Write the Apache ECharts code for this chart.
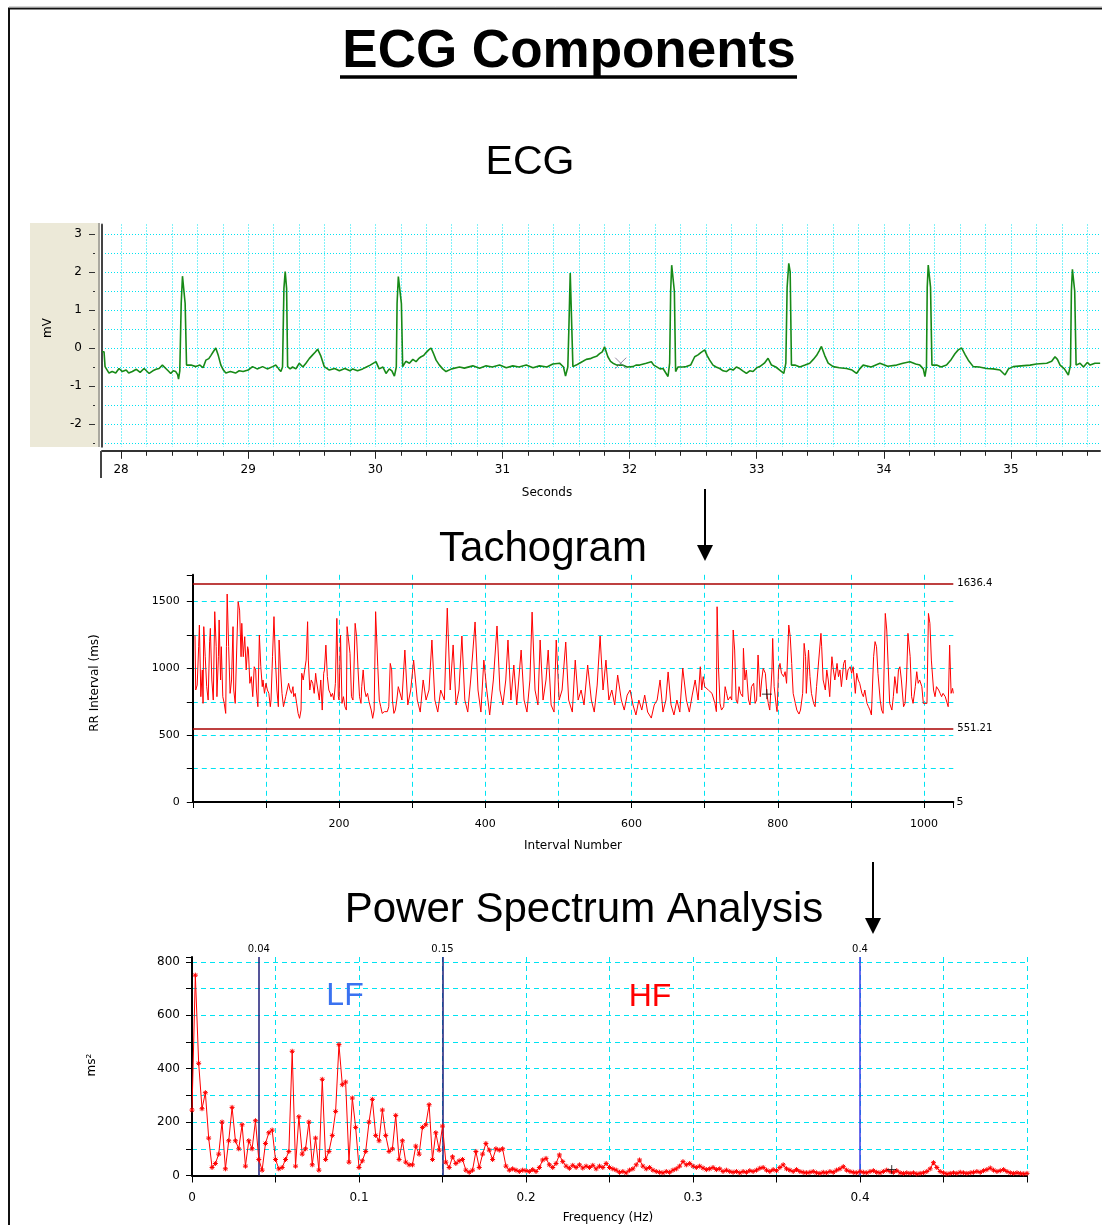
<!DOCTYPE html>
<html><head><meta charset="utf-8">
<script src="https://cdn.jsdelivr.net/npm/echarts@6/dist/echarts.min.js"></script>
<style>html,body{margin:0;padding:0;background:#fff}#c{width:1102px;height:1225px}</style>
</head><body><div id="c"></div>
<script>
// ---------------- DATA ----------------
// ECG trace: [seconds, mV]
const ecgTrace = [
[27.85,-0.10],[27.866,-0.10],[27.874,-0.49],[27.905,-0.66],[27.93,-0.62],[27.958,-0.66],[27.984,-0.54],[28.01,-0.62],[28.04,-0.58],[28.06,-0.66],[28.089,-0.62],[28.12,-0.56],[28.15,-0.64],[28.181,-0.54],[28.221,-0.67],[28.25,-0.6],[28.275,-0.56],[28.299,-0.54],[28.325,-0.45],[28.352,-0.54],[28.37,-0.6],[28.391,-0.67],[28.41,-0.6],[28.43,-0.62],[28.445,-0.7],[28.452,-0.82],[28.462,-0.6],[28.473,1.17],[28.483,1.89],[28.496,1.89],[28.504,1.17],[28.515,-0.45],[28.522,-0.49],[28.55,-0.45],[28.588,-0.49],[28.62,-0.45],[28.645,-0.52],[28.667,-0.32],[28.69,-0.28],[28.706,-0.2],[28.725,-0.1],[28.745,0.0],[28.765,-0.2],[28.785,-0.45],[28.805,-0.58],[28.824,-0.66],[28.86,-0.62],[28.9,-0.66],[28.929,-0.6],[28.96,-0.62],[29.0,-0.58],[29.034,-0.49],[29.07,-0.55],[29.113,-0.49],[29.15,-0.55],[29.192,-0.49],[29.218,-0.45],[29.24,-0.55],[29.257,-0.62],[29.27,-0.5],[29.281,1.57],[29.291,2.01],[29.302,1.57],[29.31,-0.49],[29.33,-0.55],[29.349,-0.5],[29.375,-0.55],[29.402,-0.4],[29.43,-0.5],[29.454,-0.4],[29.48,-0.28],[29.507,-0.18],[29.53,-0.1],[29.546,-0.03],[29.57,-0.2],[29.598,-0.49],[29.638,-0.58],[29.68,-0.54],[29.717,-0.6],[29.76,-0.54],[29.8,-0.6],[29.822,-0.55],[29.86,-0.6],[29.9,-0.55],[29.93,-0.5],[29.96,-0.45],[30.005,-0.36],[30.03,-0.55],[30.06,-0.5],[30.084,-0.67],[30.11,-0.55],[30.13,-0.6],[30.15,-0.74],[30.165,-0.5],[30.171,1.17],[30.181,1.88],[30.194,1.88],[30.205,1.17],[30.215,-0.49],[30.24,-0.35],[30.268,-0.4],[30.295,-0.3],[30.32,-0.36],[30.34,-0.28],[30.36,-0.23],[30.38,-0.2],[30.399,-0.12],[30.42,-0.05],[30.438,0.0],[30.458,-0.15],[30.478,-0.32],[30.504,-0.45],[30.53,-0.55],[30.556,-0.62],[30.6,-0.55],[30.662,-0.5],[30.7,-0.53],[30.767,-0.47],[30.82,-0.53],[30.871,-0.47],[30.92,-0.5],[30.977,-0.45],[31.03,-0.52],[31.081,-0.47],[31.13,-0.5],[31.187,-0.45],[31.24,-0.52],[31.291,-0.47],[31.35,-0.5],[31.396,-0.42],[31.449,-0.4],[31.48,-0.5],[31.496,-0.74],[31.514,-0.5],[31.522,0.47],[31.533,1.97],[31.544,1.97],[31.554,-0.49],[31.58,-0.45],[31.606,-0.4],[31.633,-0.35],[31.659,-0.3],[31.69,-0.28],[31.711,-0.25],[31.74,-0.22],[31.764,-0.15],[31.785,-0.1],[31.803,0.03],[31.829,-0.23],[31.85,-0.35],[31.869,-0.4],[31.9,-0.45],[31.948,-0.45],[31.98,-0.5],[32.026,-0.49],[32.05,-0.45],[32.079,-0.45],[32.131,-0.4],[32.171,-0.36],[32.19,-0.45],[32.21,-0.49],[32.24,-0.55],[32.263,-0.54],[32.302,-0.75],[32.315,-0.4],[32.323,1.5],[32.331,2.18],[32.341,2.18],[32.352,1.5],[32.362,-0.62],[32.38,-0.5],[32.394,-0.54],[32.42,-0.5],[32.446,-0.49],[32.48,-0.45],[32.512,-0.23],[32.538,-0.18],[32.56,-0.12],[32.591,-0.05],[32.61,-0.2],[32.63,-0.32],[32.656,-0.45],[32.68,-0.5],[32.709,-0.54],[32.735,-0.6],[32.761,-0.62],[32.79,-0.55],[32.814,-0.58],[32.84,-0.5],[32.866,-0.54],[32.89,-0.6],[32.919,-0.67],[32.945,-0.6],[32.971,-0.62],[33.0,-0.52],[33.024,-0.49],[33.06,-0.4],[33.089,-0.27],[33.116,-0.45],[33.15,-0.5],[33.181,-0.58],[33.213,-0.67],[33.229,-0.4],[33.239,1.6],[33.252,2.23],[33.263,2.0],[33.273,-0.45],[33.3,-0.45],[33.339,-0.5],[33.38,-0.45],[33.417,-0.4],[33.445,-0.3],[33.47,-0.2],[33.49,-0.08],[33.509,0.04],[33.535,-0.2],[33.562,-0.4],[33.601,-0.49],[33.65,-0.52],[33.706,-0.54],[33.75,-0.58],[33.785,-0.67],[33.81,-0.55],[33.837,-0.45],[33.9,-0.5],[33.969,-0.4],[34.03,-0.48],[34.1,-0.45],[34.15,-0.4],[34.205,-0.36],[34.25,-0.42],[34.283,-0.45],[34.31,-0.55],[34.323,-0.75],[34.335,-0.5],[34.341,1.6],[34.349,2.18],[34.362,2.18],[34.367,1.6],[34.378,-0.45],[34.415,-0.45],[34.45,-0.5],[34.493,-0.45],[34.53,-0.3],[34.559,-0.15],[34.585,-0.05],[34.612,0.0],[34.64,-0.18],[34.664,-0.32],[34.703,-0.49],[34.75,-0.5],[34.808,-0.54],[34.86,-0.55],[34.913,-0.58],[34.953,-0.71],[34.98,-0.55],[35.018,-0.49],[35.08,-0.47],[35.15,-0.45],[35.2,-0.42],[35.281,-0.4],[35.32,-0.35],[35.346,-0.23],[35.365,-0.3],[35.386,-0.45],[35.42,-0.55],[35.451,-0.71],[35.468,-0.45],[35.475,1.5],[35.483,2.07],[35.496,2.07],[35.501,1.5],[35.512,-0.45],[35.543,-0.4],[35.57,-0.5],[35.6,-0.38],[35.622,-0.45],[35.66,-0.4],[35.701,-0.4]
];
const ecgXTicks = [28,29,30,31,32,33,34,35];
const ecgXMinorTicks = [28,28.2,28.4,28.6,28.8,29,29.2,29.4,29.6,29.8,30,30.2,30.4,30.6,30.8,31,31.2,31.4,31.6,31.8,32,32.2,32.4,32.6,32.8,33,33.2,33.4,33.6,33.8,34,34.2,34.4,34.6,34.8,35,35.2,35.4,35.6];
const ecgYTicks = [-2,-1,0,1,2,3];
const ecgYMinorTicks = [-2.5,-1.5,-0.5,0.5,1.5,2.5];
const ecgYGrid = [-2.5,-2,-1.5,-1,-0.5,0,0.5,1,1.5,2,2.5,3];
const ecgCursor = [31.93, -0.4];

// Tachogram: [interval number, RR interval ms]
const rrSeries = [
[3,1249],[4,838],[6,875],[8,1162],[9,1324],[11,788],[13,988],[14,738],[15,1312],[17,1087],[19,863],[21,763],[23,1199],[24,1299],[26,913],[28,763],[30,1424],[32,1162],[33,788],[35,1087],[36,1362],[38,913],[39,1162],[41,788],[43,738],[45,663],[46,1162],[47,1556],[49,1162],[51,813],[53,913],[55,1312],[56,838],[58,738],[60,1137],[62,1499],[64,1436],[66,1087],[67,1337],[69,1087],[71,1237],[73,988],[75,1162],[76,1137],[78,888],[80,938],[82,788],[84,1012],[86,988],[87,838],[89,713],[91,1249],[93,1012],[95,863],[96,913],[98,813],[100,888],[102,838],[104,813],[106,713],[107,763],[109,1087],[111,1387],[113,1062],[115,838],[117,713],[118,1212],[120,988],[122,813],[124,713],[126,763],[127,788],[129,838],[131,888],[133,838],[135,813],[137,863],[138,788],[140,813],[142,738],[144,663],[146,626],[148,688],[149,963],[151,913],[153,988],[155,1062],[157,1349],[158,1062],[160,838],[162,913],[164,888],[166,813],[168,963],[169,913],[171,838],[173,763],[175,913],[177,688],[179,963],[180,988],[182,1174],[184,938],[186,838],[188,813],[189,788],[191,813],[193,763],[195,888],[197,1374],[199,788],[200,763],[202,1249],[204,738],[206,788],[208,713],[210,688],[211,1312],[213,1324],[215,1112],[217,788],[219,763],[220,913],[222,1337],[224,1237],[226,988],[228,788],[230,738],[231,863],[233,988],[235,838],[237,788],[239,813],[241,751],[242,763],[244,688],[246,626],[248,688],[250,1424],[251,1287],[253,1012],[255,763],[257,713],[259,663],[261,651],[262,676],[264,688],[266,676],[268,713],[270,1037],[272,988],[273,763],[275,663],[277,688],[279,763],[281,863],[282,863],
[286,763],[290,1137],[294,726],[298,838],[302,1062],[307,763],[311,673],[315,913],[319,763],[323,838],[327,1212],[331,763],[335,673],[339,838],[344,763],[348,1451],[352,838],[356,1175],[360,726],[364,838],[368,1242],[372,763],[376,673],[380,913],[386,1347],[390,838],[394,673],[398,1062],[402,838],[406,651],[411,913],[416,1317],[420,838],[424,726],[428,913],[431,1212],[435,763],[439,1025],[443,726],[449,1137],[453,763],[457,673],[461,913],[464,1421],[468,838],[472,726],[475,1212],[479,763],[483,913],[486,1137],[490,726],[494,673],[497,1212],[501,763],[505,838],[510,1197],[514,763],[519,673],[523,1062],[527,763],[531,838],[535,726],[540,1025],[545,763],[549,673],[553,875],[557,1242],[561,838],[565,1062],[569,763],[573,838],[577,726],[581,950],[586,763],[590,688],[594,800],[598,838],[602,726],[606,651],[610,763],[614,688],[618,800],[622,673],[627,628],[631,726],[635,763],[639,913],[643,673],[647,763],[650,973],[654,726],[658,651],[662,763],[666,673],[670,1002],[675,763],[679,673],[683,800],[687,913],[691,763],
[694,1012],[696,838],[698,938],[700,863],[705,838],[710,813],[714,738],[716,676],[717,1461],[719,988],[721,738],[723,688],[726,713],[728,863],[730,813],[732,763],[735,788],[737,763],[739,1287],[741,1137],[743,763],[745,738],[747,863],[749,813],[752,788],[753,1150],[755,913],[757,988],[760,763],[762,726],[764,863],[767,888],[769,738],[771,763],[773,1100],[776,788],[778,913],[780,1000],[783,963],[785,813],[787,738],[789,688],[792,988],[793,1224],[795,863],[798,713],[799,676],[801,988],[803,1037],[805,963],[808,938],[810,975],[812,888],[815,1324],[817,1237],[819,1037],[821,813],[824,738],[826,688],[829,658],[831,688],[834,813],[836,1187],[838,1087],[839,813],[842,1137],[844,938],[846,813],[849,738],[851,713],[853,863],[855,863],[859,1262],[860,1162],[862,913],[865,838],[867,988],[869,913],[871,788],[874,1087],[876,988],[878,913],[881,1037],[883,938],[885,988],[887,863],[890,1037],[892,1062],[894,913],[896,988],[899,1012],[901,963],[903,1012],[906,813],[908,963],[910,913],[912,888],[915,813],[917,788],[919,838],[922,738],[924,713],[926,688],[928,651],[931,1087],[933,1200],[935,1162],[937,963],[940,763],[942,688],[944,663],[947,1411],[949,1287],[951,1012],[953,738],[956,688],[958,788],[960,938],[963,813],[965,988],[967,1012],[969,913],[972,713],[974,738],[976,913],[978,1262],[981,1087],[983,788],[985,738],[988,863],[990,975],[992,888],[994,913],[997,863],[999,738],[1001,726],[1004,738],[1006,1411],[1008,1337],[1010,1062],[1013,838],[1015,788],[1017,863],[1020,838],[1022,813],[1024,788],[1026,813],[1029,788],[1031,800],[1033,713],[1035,1174],[1037,813],[1039,850],[1040,813]
];
const rrLimits = [1636.4, 551.21];
const rrXStep = 100, rrXLabelStep = 200;
const rrYStep = 250, rrYLabelStep = 500;
const rrCursor = [785, 807];

// Power spectrum: bins every 0.002 Hz from 0 to 0.5, power in ms²
const psdBinWidth = 0.002;
const psdPower = [
245,750,420,250,310,140,30,45,80,200,
25,130,255,130,100,190,35,130,100,205,
60,20,120,160,170,60,25,30,60,90,
465,35,220,80,100,200,40,140,20,360,
60,90,150,240,490,340,350,50,290,180,
30,55,90,200,285,150,130,245,150,90,
100,225,60,130,50,40,40,110,80,180,
190,265,60,160,95,185,50,30,70,45,
55,60,20,12,20,90,30,
80,120,95,60,100,95,100,35,20,25,
20,15,20,18,15,22,15,30,58,64,
40,30,45,77,52,35,27,38,30,40,
28,35,30,38,25,35,30,45,30,25,
20,12,15,10,20,25,40,58,35,25,
30,20,15,12,10,15,12,20,25,35,
52,40,45,35,30,35,28,22,25,30,
22,25,15,20,15,12,15,10,15,12,
18,15,20,27,30,20,15,22,18,30,
40,25,20,15,22,15,12,10,12,15,
10,8,12,10,15,12,20,25,33,20,
15,12,10,15,12,10,15,18,12,10,
15,20,15,12,18,10,8,10,8,10,
6,8,10,15,25,48,30,15,10,6,
8,10,8,12,10,8,10,12,15,12,
18,22,28,20,15,18,22,15,10,8,
10,8,6,8
];
const bandLimits = [0.04, 0.15, 0.4];
const psdXStep = 0.05;
const psdXLabels = ['0','0.1','0.2','0.3','0.4'];
const psdYStep = 100, psdYLabelStep = 200;
const psdCursor = [0.419, 22];

// ---------------- CHART ----------------
const FONT = '"DejaVu Sans", Verdana, sans-serif';
const ARIAL = '"Liberation Sans", Arial, sans-serif';
const CYAN = '#00e4f2';
const psdData = psdPower.map((v,i)=>[+(i*psdBinWidth).toFixed(3), v]);

const chart = echarts.init(document.getElementById('c'), null, {renderer:'canvas'});

function txt(x, y, text, font, fill, rot) {
  return {type:'text', x:x, y:y, rotation: rot||0, z:100,
    style:{text:text, font:font, fill:fill||'#000', textAlign:'center', textVerticalAlign:'middle', align:'center', verticalAlign:'middle'}};
}
const dashed = {show:true, showMinLine:false, showMaxLine:false, lineStyle:{color:CYAN, width:1, type:[5,4]}};
const labelBase = (size, margin, fmt) => ({show:true, margin:margin, color:'#000', fontSize:size, fontFamily:FONT, formatter:fmt, showMinLabel:true, showMaxLabel:true});
const PLUS = 'path://M5,0L5,10M0,5L10,5';
const CROSS = 'path://M0,0L10,10M10,0L0,10';
const cursorSeries = (xi, yi, pt, sym, size, color) => ({type:'scatter', xAxisIndex:xi, yAxisIndex:yi, data:[pt], symbol:sym, symbolSize:size, silent:true, z:8,
  itemStyle:{color:'none', borderColor:color, borderWidth:1}});

const option = {
  animation:false,
  backgroundColor:'#fff',
  grid:[
    {left:102, top:224.5, width:998, height:222.3, outerBoundsMode:'none', containLabel:false},
    {left:192.8, top:574.8, width:760.5, height:227.2, outerBoundsMode:'none', containLabel:false},
    {left:192, top:957, width:835, height:218.5, outerBoundsMode:'none', containLabel:false}
  ],
  xAxis:[
    {type:'value', gridIndex:0, min:27.85, max:35.7, position:'bottom', offset:4,
      axisLine:{show:true, onZero:false, lineStyle:{color:'#333', width:2}},
      axisTick:{show:true, length:8, customValues:ecgXTicks, lineStyle:{color:'#222'}},
      axisLabel:{show:true, customValues:ecgXTicks, margin:13, color:'#000', fontSize:12, fontFamily:FONT, formatter:(v)=>String(v)},
      splitLine:{show:false}},
    {type:'value', gridIndex:0, min:27.85, max:35.7, position:'bottom', offset:4,
      axisLine:{show:false, onZero:false},
      axisTick:{show:true, length:5, customValues:ecgXMinorTicks, lineStyle:{color:'#222'}},
      axisLabel:{show:false},
      splitLine:{show:true, lineStyle:{color:CYAN, width:1, type:[1,2]}}},
    {type:'value', gridIndex:1, min:0, max:1040, interval:rrXStep, position:'bottom',
      axisLine:{show:true, onZero:false, lineStyle:{color:'#000', width:2}},
      axisTick:{show:true, length:6, lineStyle:{color:'#000'}},
      axisLabel:labelBase(11, 17, (v)=> (v>0 && v<=1000 && v%rrXLabelStep===0) ? String(v) : ''),
      splitLine:dashed},
    {type:'value', gridIndex:2, min:0, max:0.5, interval:psdXStep, position:'bottom',
      axisLine:{show:true, onZero:false, lineStyle:{color:'#000', width:2}},
      axisTick:{show:true, length:7, lineStyle:{color:'#000'}},
      axisLabel:labelBase(12, 16, (v)=> { const i = psdXLabels.indexOf(String(+v.toFixed(2))); return i>=0 ? psdXLabels[i] : ''; }),
      splitLine:{show:true, showMinLine:false, showMaxLine:true, lineStyle:{color:CYAN, width:1, type:[5,4]}}}
  ],
  yAxis:[
    {type:'value', gridIndex:0, min:-2.6, max:3.25, position:'left',
      axisLine:{show:true, onZero:false, lineStyle:{color:'#444', width:2}},
      axisTick:{show:false, customValues:ecgYGrid},
      axisLabel:{show:false},
      splitLine:{show:true, lineStyle:{color:CYAN, width:1, type:[1,2]}}},
    {type:'value', gridIndex:0, min:-2.6, max:3.25, position:'left', offset:7,
      axisLine:{show:false, onZero:false},
      axisTick:{show:true, length:6, customValues:ecgYTicks, lineStyle:{color:'#333'}},
      axisLabel:{show:true, customValues:ecgYTicks, margin:13, color:'#000', fontSize:12, fontFamily:FONT, formatter:(v)=>String(v)},
      splitLine:{show:false}},
    {type:'value', gridIndex:0, min:-2.6, max:3.25, position:'left', offset:7,
      axisLine:{show:false, onZero:false},
      axisTick:{show:true, length:2, customValues:ecgYMinorTicks, lineStyle:{color:'#333'}},
      axisLabel:{show:false}, splitLine:{show:false}},
    {type:'value', gridIndex:1, min:0, max:1700, interval:rrYStep, position:'left',
      axisLine:{show:true, onZero:false, lineStyle:{color:'#000', width:2}},
      axisTick:{show:true, length:6, lineStyle:{color:'#000'}},
      axisLabel:labelBase(11, 13, (v)=> (v<=1500 && v%rrYLabelStep===0) ? String(v) : ''),
      splitLine:dashed},
    {type:'value', gridIndex:2, min:0, max:818, interval:psdYStep, position:'left',
      axisLine:{show:true, onZero:false, lineStyle:{color:'#000', width:2}},
      axisTick:{show:true, length:6, lineStyle:{color:'#000'}},
      axisLabel:labelBase(12, 12, (v)=> (v<=800 && v%psdYLabelStep===0) ? String(v) : ''),
      splitLine:dashed}
  ],
  series:[
    {type:'line', xAxisIndex:0, yAxisIndex:0, data:ecgTrace, showSymbol:false, symbol:'none',
      lineStyle:{color:'#178a17', width:1.6}, z:5},
    {type:'line', xAxisIndex:2, yAxisIndex:3, data:rrSeries, showSymbol:false, symbol:'none',
      lineStyle:{color:'#ff0000', width:1}, z:5,
      markLine:{silent:true, symbol:['none','none'],
        lineStyle:{color:'#a80000', width:1.5, type:'solid'},
        label:{show:true, position:'end', distance:4, formatter:(p)=>String(p.value), color:'#000', fontSize:10, fontFamily:FONT},
        data: rrLimits.map(v=>({yAxis:v}))}},
    {type:'line', xAxisIndex:3, yAxisIndex:4, data:psdData, showSymbol:true, showAllSymbol:true,
      symbol:'path://M5,0L5,10M0,5L10,5M1.5,1.5L8.5,8.5M8.5,1.5L1.5,8.5', symbolSize:5,
      itemStyle:{color:'#ff0000', borderColor:'#ff0000', borderWidth:1},
      lineStyle:{color:'#ff0000', width:1}, z:5,
      markLine:{silent:true, symbol:['none','none'],
        label:{show:true, position:'end', distance:3, formatter:(p)=>String(p.value), color:'#000', fontSize:10, fontFamily:FONT},
        data: bandLimits.map((v,i)=>({xAxis:v, lineStyle:{color: i===2 ? '#3a3ae6' : '#1c1c78', width:1.5, type:'solid'}}))}},
    cursorSeries(0, 0, ecgCursor, CROSS, 11, '#7a6a8a'),
    cursorSeries(2, 3, rrCursor, PLUS, 10, '#000'),
    cursorSeries(3, 4, psdCursor, PLUS, 9, '#000')
  ],
  graphic:[
    {type:'rect', z:-10, shape:{x:30, y:223, width:70, height:224}, style:{fill:'#ECE9D8'}},
    {type:'line', z:100, shape:{x1:99, y1:223, x2:99, y2:447}, style:{stroke:'#666', lineWidth:1}},
    {type:'rect', z:100, shape:{x:9, y:8.5, width:1200, height:1300}, style:{fill:'none', stroke:'#111', lineWidth:2}},
    {type:'line', z:100, shape:{x1:9, y1:7, x2:1102, y2:7}, style:{stroke:'#aaa', lineWidth:1}},
    txt(569, 52, 'ECG Components', 'bold 53px ' + ARIAL),
    {type:'line', z:100, shape:{x1:340, y1:77, x2:797, y2:77}, style:{stroke:'#000', lineWidth:3.5}},
    txt(530, 163, 'ECG', '41px ' + ARIAL),
    txt(543, 549, 'Tachogram', '42px ' + ARIAL),
    txt(584, 910, 'Power Spectrum Analysis', '42px ' + ARIAL),
    txt(48, 328, 'mV', '12px ' + FONT, '#000', Math.PI/2),
    txt(547, 493, 'Seconds', '12px ' + FONT),
    txt(95, 683, 'RR Interval (ms)', '12px ' + FONT, '#000', Math.PI/2),
    txt(573, 846, 'Interval Number', '12px ' + FONT),
    txt(92, 1065, 'ms²', '12px ' + FONT, '#000', Math.PI/2),
    txt(608, 1218, 'Frequency (Hz)', '12px ' + FONT),
    txt(960, 802, '5', '11px ' + FONT),
    txt(345, 996, 'LF', '32px ' + ARIAL, '#3a72f0'),
    txt(650, 997, 'HF', '32px ' + ARIAL, '#ff0000'),
    {type:'line', z:100, shape:{x1:101, y1:451, x2:101, y2:478}, style:{stroke:'#444', lineWidth:2}},
    {type:'line', z:100, shape:{x1:705, y1:489, x2:705, y2:548}, style:{stroke:'#000', lineWidth:2}},
    {type:'polygon', z:100, shape:{points:[[697,545],[713,545],[705,561]]}, style:{fill:'#000'}},
    {type:'line', z:100, shape:{x1:873, y1:862, x2:873, y2:921}, style:{stroke:'#000', lineWidth:2}},
    {type:'polygon', z:100, shape:{points:[[865,918],[881,918],[873,934]]}, style:{fill:'#000'}}
  ]
};
chart.setOption(option);
</script>
</body></html>
